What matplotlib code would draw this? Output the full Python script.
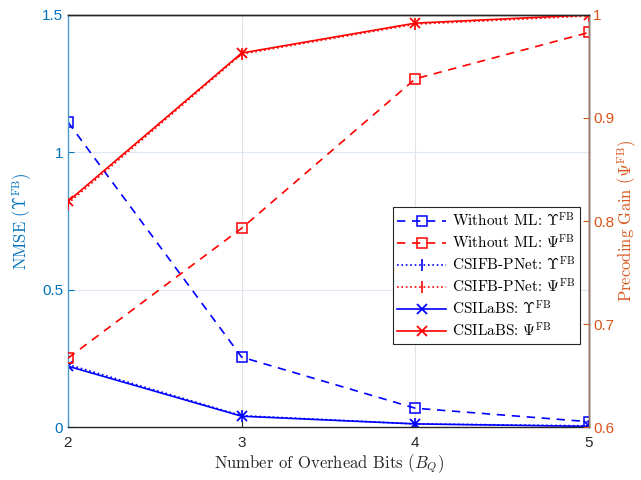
import matplotlib.pyplot as plt
from matplotlib.ticker import FuncFormatter

plt.rcParams["mathtext.fontset"] = "cm"
plt.rcParams["font.family"] = ["Liberation Sans", "DejaVu Sans"]

BITS = [2, 3, 4, 5]

# left axis: NMSE (Upsilon^FB)
nmse_no_ml = [1.110, 0.255, 0.069, 0.020]
nmse_pnet = [0.228, 0.042, 0.012, 0.005]
nmse_labs = [0.222, 0.040, 0.012, 0.003]

# right axis: precoding gain (Psi^FB)
gain_no_ml = [0.667, 0.793, 0.938, 0.983]
gain_pnet = [0.817, 0.962, 0.991, 0.999]
gain_labs = [0.819, 0.963, 0.992, 1.000]

BLUE_AX = "#0072BD"
ORANGE_AX = "#D95319"
SERIF = "cmr10"

fig = plt.figure(figsize=(6.41, 4.80), dpi=100)
ax = fig.add_axes([0.106, 0.110, 0.813, 0.859])
ax2 = ax.twinx()

lw = 1.2
h1, = ax.plot(BITS, nmse_no_ml, color="blue", ls=(0, (5, 4)), lw=lw, marker="s",
              ms=7, mfc="none", mew=1.1, label=r"Without ML: $\Upsilon^{\mathrm{FB}}$")
h3, = ax.plot(BITS, nmse_pnet, color="blue", ls=":", lw=lw, marker="|",
              ms=9, mew=1.2, label=r"CSIFB-PNet: $\Upsilon^{\mathrm{FB}}$")
h5, = ax.plot(BITS, nmse_labs, color="blue", ls="-", lw=lw, marker="x",
              ms=7, mew=1.3, label=r"CSILaBS: $\Upsilon^{\mathrm{FB}}$")

h2, = ax2.plot(BITS, gain_no_ml, color="red", ls=(0, (5, 4)), lw=lw, marker="s",
               ms=7, mfc="none", mew=1.1, label=r"Without ML: $\Psi^{\mathrm{FB}}$")
h4, = ax2.plot(BITS, gain_pnet, color="red", ls=":", lw=lw, marker="|",
               ms=9, mew=1.2, label=r"CSIFB-PNet: $\Psi^{\mathrm{FB}}$")
h6, = ax2.plot(BITS, gain_labs, color="red", ls="-", lw=lw, marker="x",
               ms=7, mew=1.3, label=r"CSILaBS: $\Psi^{\mathrm{FB}}$")

ax.set_xlim(2, 5)
ax.set_ylim(0, 1.5)
ax2.set_ylim(0.6, 1.0)
ax.set_xticks(BITS)
ax.set_yticks([0, 0.5, 1, 1.5])
ax2.set_yticks([0.6, 0.7, 0.8, 0.9, 1.0])
fmt = FuncFormatter(lambda v, p: f"{v:g}")
ax.yaxis.set_major_formatter(fmt)
ax2.yaxis.set_major_formatter(fmt)

# grid: vertical light gray, horizontal light blue (left axis)
for xv in [3, 4]:
    ax.axvline(xv, color="#E3E3E3", lw=0.8, zorder=0)
for yv in [0.5, 1.0]:
    ax.axhline(yv, color="#DCE9F4", lw=0.8, zorder=0)

ax.tick_params(axis="x", direction="in", colors="#262626", labelsize=11, length=4, pad=6)
ax.tick_params(axis="y", direction="in", colors=BLUE_AX, labelsize=11, length=4)
ax2.tick_params(axis="y", direction="in", colors=ORANGE_AX, labelsize=11, length=4, pad=3)
ax.tick_params(axis="x", top=False)

ax.spines["left"].set_color("#4C9BD0")
ax.spines["bottom"].set_color("#262626")
ax.spines["top"].set_color("#262626")
ax2.spines["left"].set_visible(False)
ax2.spines["bottom"].set_visible(False)
ax2.spines["top"].set_color("#262626")
ax2.spines["right"].set_color("#A07A6C")
for s in ax.spines.values():
    s.set_linewidth(1.0)
for s in ax2.spines.values():
    s.set_linewidth(1.0)

ax.set_xlabel(r"Number of Overhead Bits ($B_Q$)", fontsize=12, family=SERIF,
              color="#262626", labelpad=2)
ax.set_ylabel(r"NMSE ($\Upsilon^{\mathrm{FB}}$)", fontsize=12, family=SERIF,
              color=BLUE_AX, labelpad=6)
ax2.set_ylabel(r"Precoding Gain ($\Psi^{\mathrm{FB}}$)", fontsize=12, family=SERIF,
               color=ORANGE_AX, labelpad=1)

leg = ax2.legend(handles=[h1, h2, h3, h4, h5, h6], loc="upper right",
                 bbox_to_anchor=(0.983, 0.534), prop={"family": SERIF, "size": 11},
                 fancybox=False, framealpha=1, edgecolor="#262626", handlelength=3.2,
                 handletextpad=0.4, borderpad=0.3, labelspacing=0.25,
                 borderaxespad=0)
leg.get_frame().set_linewidth(0.8)

fig.savefig("out.png", dpi=100, facecolor="white")
